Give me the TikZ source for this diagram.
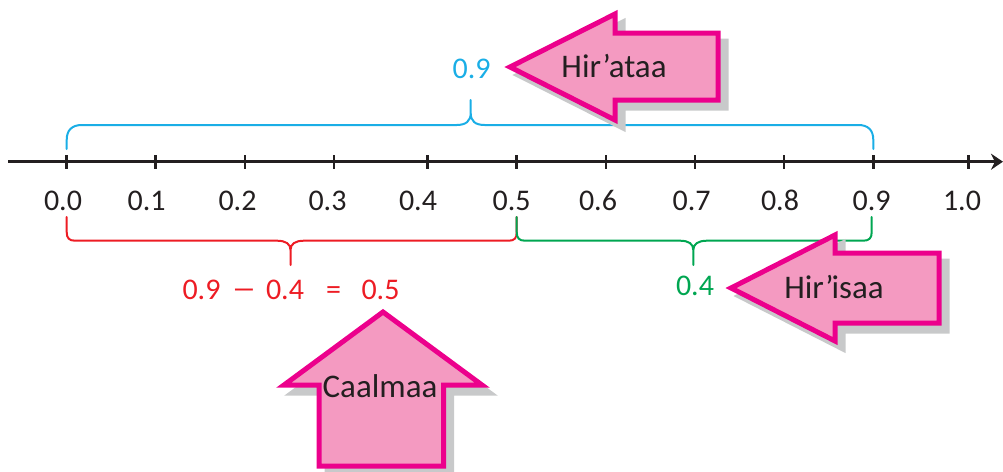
\documentclass[tikz,border=0pt]{standalone}
\usepackage{fontspec}
\setmainfont{Carlito}
\usetikzlibrary{arrows.meta}
\definecolor{lineblue}{HTML}{1AAEE6}
\definecolor{linered}{HTML}{ED1C24}
\definecolor{linegreen}{HTML}{00A651}
\definecolor{magentaedge}{HTML}{EC008C}
\definecolor{pinkfill}{HTML}{F49AC1}
\definecolor{shadowgray}{HTML}{C8C9CA}
\definecolor{textdark}{HTML}{231F20}
\begin{document}
\begin{tikzpicture}[x=1pt,y=-1pt,
  axisline/.style={line width=3pt, draw=textdark, -{Stealth[length=12pt,width=16pt]}},
  tickline/.style={line width=2.5pt, draw=textdark},
  ticklabel/.style={font=\fontsize{30}{36}\selectfont, text=textdark, anchor=base, inner sep=0pt},
  numlabel/.style={font=\fontsize{30}{36}\selectfont, anchor=base, inner sep=0pt},
  arrowtext/.style={font=\fontsize{33}{40}\selectfont, text=textdark, anchor=base, inner sep=0pt},
  bracepath/.style={line width=2pt, line join=round, line cap=round},
  arrowshape/.style={draw=magentaedge, fill=pinkfill, line width=5pt, line join=miter},
  arrowshadow/.style={draw=shadowgray, fill=shadowgray, line width=5pt, line join=miter},
]
\useasboundingbox (0,0) rectangle (1003,471);

% number line
\coordinate (nlstart) at (8,161.7);
\coordinate (nlend) at (1003,161.7);
\draw[axisline] (nlstart) -- (nlend);
\foreach \n/\x/\lx/\lab in {0/66.7/63/0.0, 1/155.7/146.7/0.1, 2/245/237.5/0.2, 3/334/327.5/0.3, 4/427.3/418/0.4, 5/516.7/511.7/0.5, 6/606/598/0.6, 7/695/691.7/0.7, 8/784/780/0.8, 9/873.3/871.7/0.9, 10/968.3/962/1.0} {
  \coordinate (t\n) at (\x,161.7);
  \draw[tickline] (\x,155) -- (\x,169);
  \node[ticklabel] (l\n) at (\lx,210) {\lab};
}

% blue brace 0.0 -> 0.9
\draw[bracepath, draw=lineblue]
  (66.7,149) -- (66.7,140) .. controls (66.7,130) and (72,125) .. (82,125)
  -- (456.7,125) .. controls (466,125) and (470.7,121) .. (470.7,113) -- (470.7,100)
  -- (470.7,113) .. controls (470.7,121) and (475,125) .. (484.7,125)
  -- (858.3,125) .. controls (868,125) and (873.3,130) .. (873.3,140) -- (873.3,149);
\node[numlabel, text=lineblue] (sumlabel) at (471.7,78.3) {0.9};

% red brace 0.0 -> 0.5
\draw[bracepath, draw=linered]
  (66.7,217) -- (66.7,232) .. controls (66.7,238) and (69,240.7) .. (75,240.7)
  -- (277,240.7) .. controls (286,240.7) and (290.5,244) .. (290.5,250) -- (290.5,265)
  -- (290.5,250) .. controls (290.5,244) and (295,240.7) .. (304,240.7)
  -- (508.7,240.7) .. controls (514.7,240.7) and (516.7,238) .. (516.7,232) -- (516.7,217);

% green brace 0.5 -> 0.9
\draw[bracepath, draw=linegreen]
  (516.7,217) -- (516.7,232) .. controls (516.7,238) and (519,240.7) .. (525,240.7)
  -- (680,240.7) .. controls (689,240.7) and (693.3,244) .. (693.3,250) -- (693.3,265)
  -- (693.3,250) .. controls (693.3,244) and (698,240.7) .. (707,240.7)
  -- (863.3,240.7) .. controls (869.3,240.7) and (871.7,238) .. (871.7,232) -- (871.7,217);
\node[numlabel, text=linegreen] (difflabel) at (695,295) {0.4};

% red equation
\node[numlabel, text=linered] (eqa) at (201.5,299.3) {0.9};
\node[numlabel, text=linered] (eqminus) at (244,299.3) {\scalebox{1.6}[1]{−}};
\node[numlabel, text=linered] (eqb) at (285,299.3) {0.4};
\node[numlabel, text=linered] (eqeq) at (333.5,299.3) {=};
\node[numlabel, text=linered] (eqc) at (380.5,299.3) {0.5};

% Hir'ataa arrow
\path[arrowshadow, shift={(8,8)}] (510,67) -- (615,14) -- (615,33) -- (718,33) -- (718,100) -- (615,100) -- (615,120) -- cycle;
\path[arrowshape] (510,67) -- (615,14) -- (615,33) -- (718,33) -- (718,100) -- (615,100) -- (615,120) -- cycle;
\node[arrowtext] (hirataa) at (614,77) {Hir’\kern-2pt ataa};

% Hir'isaa arrow
\path[arrowshadow, shift={(8,8)}] (731,288) -- (835,235) -- (835,253) -- (939,253) -- (939,323) -- (835,323) -- (835,341) -- cycle;
\path[arrowshape] (731,288) -- (835,235) -- (835,253) -- (939,253) -- (939,323) -- (835,323) -- (835,341) -- cycle;
\node[arrowtext] (hirisaa) at (834,298.3) {Hir’\kern-2pt isaa};

% Caalmaa arrow
\path[arrowshadow, shift={(8,8)}] (383,312) -- (482,385) -- (443.5,385) -- (443.5,466) -- (319,466) -- (319,385) -- (284,385) -- cycle;
\path[arrowshape] (383,312) -- (482,385) -- (443.5,385) -- (443.5,466) -- (319,466) -- (319,385) -- (284,385) -- cycle;
\node[arrowtext] (caalmaa) at (380,397) {Caalmaa};
\end{tikzpicture}
\end{document}
